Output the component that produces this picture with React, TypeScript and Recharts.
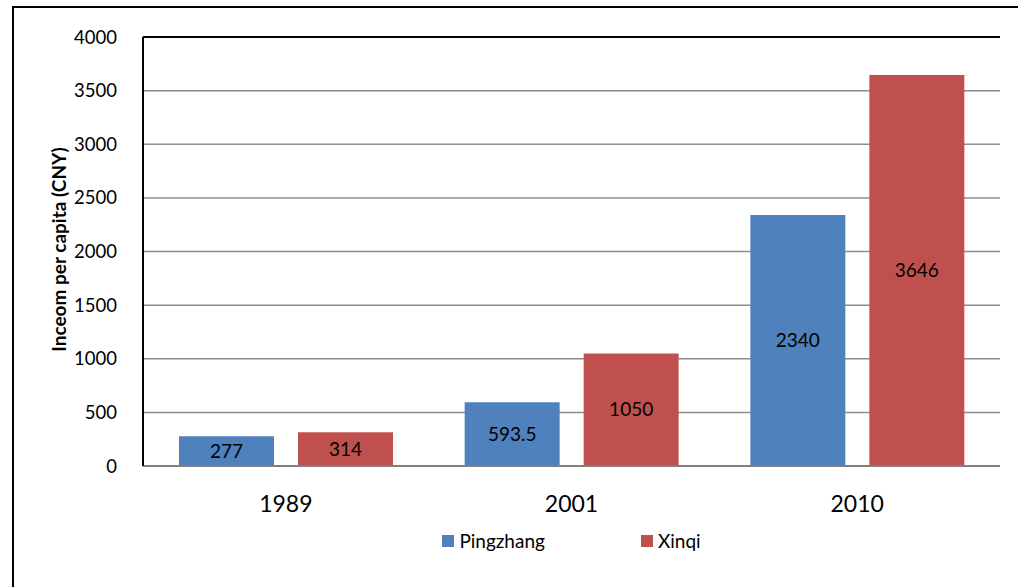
import React from "react";
import {
  BarChart, Bar, XAxis, YAxis, CartesianGrid, LabelList, Legend, ReferenceLine,
} from "recharts";

const years = ["1989", "2001", "2010"];
const pingzhang = [277, 593.5, 2340];
const xinqi = [314, 1050, 3646];
const yTicks = [0, 500, 1000, 1500, 2000, 2500, 3000, 3500, 4000];

const BLUE = "#4F81BD";
const RED = "#C0504D";
const FONT = "Lato, 'Open Sans', sans-serif";

const data = years.map((y, i) => ({ year: y, Pingzhang: pingzhang[i], Xinqi: xinqi[i] }));

function LegendBox({ payload }: any) {
  return (
    <div style={{ display: "flex", justifyContent: "center", gap: 96, fontFamily: FONT, fontSize: 19 }}>
      {(payload || []).map((p: any) => (
        <div key={p.value} style={{ display: "flex", alignItems: "center" }}>
          <span style={{ width: 12, height: 12, background: p.color, display: "inline-block", marginRight: 5 }} />
          <span style={{ color: "#000" }}>{p.value}</span>
        </div>
      ))}
    </div>
  );
}

export default function App() {
  return (
    <div style={{ position: "absolute", left: 0, top: 0, width: 1018, height: 587, overflow: "hidden", background: "#fff" }}>
      {/* outer frame, runs off the right and bottom edges */}
      <div style={{ position: "absolute", left: 12, top: 6, width: 1100, height: 700, border: "2px solid #000" }} />
      <div style={{ position: "absolute", left: 0, top: 0 }}>
        <BarChart
          width={1018}
          height={587}
          data={data}
          margin={{ top: 37, right: 18, left: 0, bottom: 38 }}
          barSize={95}
          barGap={24}
        >
          <CartesianGrid vertical={false} stroke="#8c8c8c" strokeWidth={1.5} />
          <XAxis
            dataKey="year"
            height={60}
            tickLine={false}
            tickMargin={24}
            axisLine={{ stroke: "#808080", strokeWidth: 2 }}
            tick={{ fontSize: 23, fill: "#000", fontFamily: FONT }}
          />
          <YAxis
            width={143}
            domain={[0, 4000]}
            ticks={yTicks}
            tickLine={false}
            tickMargin={20}
            axisLine={{ stroke: "#000", strokeWidth: 2 }}
            tick={{ fontSize: 18.5, fill: "#000", fontFamily: FONT }}
            label={{
              value: "Inceom per capita (CNY)",
              angle: -90,
              position: "center",
              dx: -12,
              dy: -2,
              style: { fontSize: 19, fontWeight: 700, fill: "#000", fontFamily: FONT },
            }}
          />
          <YAxis
            yAxisId="right"
            orientation="right"
            width={0}
            domain={[0, 4000]}
            tick={false}
            tickLine={false}
            axisLine={{ stroke: "#000", strokeWidth: 2 }}
          />
          <ReferenceLine y={4000} stroke="#000" strokeWidth={2} />
          <Legend
            verticalAlign="bottom"
            content={<LegendBox />}
            wrapperStyle={{ left: 143, width: 857, top: 529 }}
          />
          <Bar dataKey="Pingzhang" fill={BLUE} isAnimationActive={false}>
            <LabelList dataKey="Pingzhang" position="center" style={{ fontSize: 19, fill: "#000", fontFamily: FONT }} />
          </Bar>
          <Bar dataKey="Xinqi" fill={RED} isAnimationActive={false}>
            <LabelList dataKey="Xinqi" position="center" style={{ fontSize: 19, fill: "#000", fontFamily: FONT }} />
          </Bar>
        </BarChart>
      </div>
    </div>
  );
}
